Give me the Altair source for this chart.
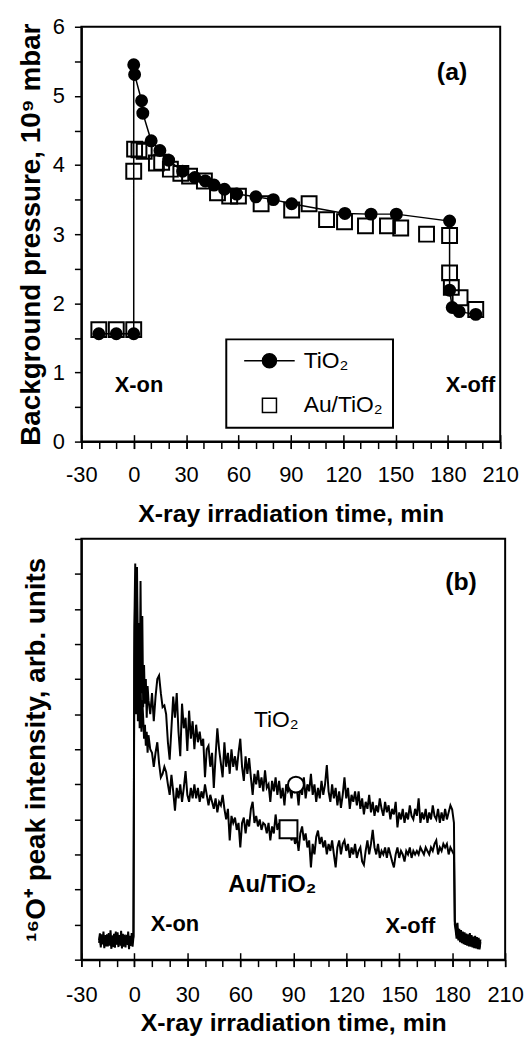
import altair as alt
import pandas as pd

# ---------------- Panel (a): background pressure ----------------
tio2_a_t = [-20, -10, 0, 0, 0.5, 4.5, 5.2, 10, 15, 20, 28, 35, 41, 46, 52, 59, 70, 80, 90.5,
            121, 136, 150.5, 181, 181, 182.5, 186.5, 196]
tio2_a_p = [1.56, 1.56, 1.56, 5.45, 5.31, 4.93, 4.75, 4.35, 4.21, 4.07, 3.91, 3.82, 3.77, 3.71,
            3.65, 3.58, 3.54, 3.50, 3.44, 3.30, 3.29, 3.29, 3.19, 2.19, 1.94, 1.88, 1.84]
au_a_t = [-20, -10, 0, 0, 0.5, 3, 6, 13, 16, 21, 27, 32, 40.5, 48, 55, 60, 73, 90.5, 100.5,
          110.5, 120.8, 132.8, 145.4, 153, 167.8, 181, 181, 182, 187, 196]
au_a_p = [1.62, 1.62, 1.62, 3.91, 4.23, 4.22, 4.20, 4.03, 4.04, 3.94, 3.88, 3.84, 3.77, 3.60,
          3.55, 3.55, 3.44, 3.35, 3.44, 3.21, 3.18, 3.12, 3.12, 3.09, 3.00, 2.98, 2.44, 2.23,
          2.08, 1.91]
legend_names = ["TiO₂", "Au/TiO₂"]

ann_a_text = ["X-on", "X-off"]
ann_a_t = [3, 193]
ann_a_p = [0.82, 0.82]
tag_a = ["(a)"]
tag_a_t = [182.4]
tag_a_p = [5.35]

# ---------------- Panel (b): 16O+ peak intensity ----------------
pre_t = [-20.0 + 0.5 * i for i in range(40)]
main_t = [0.5 * i for i in range(17)] + list(range(9, 181)) + [181, 181.5]
post_t = [182.0 + 0.5 * i for i in range(29)]
b_t = pre_t + main_t + post_t

tio2_pre = [0.55, 0.75, 0.42, 0.68, 0.50, 0.80, 0.45, 0.62, 0.38, 0.72, 0.52, 0.66, 0.40, 0.84,
            0.48, 0.60, 0.36, 0.74, 0.55, 0.64, 0.44, 0.78, 0.50, 0.70, 0.40, 0.82, 0.46, 0.63,
            0.37, 0.71, 0.53, 0.67, 0.42, 0.80, 0.49, 0.61, 0.39, 0.76, 0.52, 0.68]
tio2_main = [9.5, 11.3, 7.8, 11.2, 8.5, 9.6, 7.4, 10.8, 7.6, 9.8, 7.2, 8.4, 7.3, 8.0, 6.9, 7.8, 7.4,
             7.0, 7.6, 6.8, 7.5, 8.0, 8.1, 7.6, 7.2, 7.25, 7.0, 6.2, 5.7,
             6.6, 7.5, 6.9, 7.6, 6.5, 5.8, 7.3, 6.6, 6.9, 5.95,
             7.1, 6.3, 6.8, 6.0, 6.7, 6.2, 6.5, 6.1, 6.3, 5.2,
             6.0, 6.1, 5.5, 5.9, 4.9, 5.8, 6.6, 6.0, 5.6, 5.2,
             6.2, 5.5, 5.9, 5.3, 6.0, 5.5, 5.8, 5.4, 5.9, 6.3,
             5.5, 5.1, 5.8, 5.3, 5.75, 5.2, 4.7, 5.3, 5.0, 5.4,
             4.9, 5.2, 4.8, 5.4, 4.9, 5.0, 4.5, 5.1, 4.8, 5.2,
             4.7, 5.1, 4.6, 4.9, 4.4, 5.0, 4.8, 4.9, 4.6, 5.0,
             4.8, 4.9, 4.4, 5.0, 4.7, 5.2, 4.6, 5.0, 4.8, 5.3,
             4.7, 5.0, 4.5, 4.9, 4.6, 5.1, 4.7, 5.0, 5.55, 4.8,
             4.5, 5.0, 4.6, 4.9, 4.4, 4.8, 4.33, 4.7, 5.2, 4.6,
             4.9, 4.3, 4.7, 4.5, 4.8, 4.4, 4.8, 4.3, 4.6, 4.14,
             4.5, 4.3, 4.7, 4.2, 4.5, 4.1, 4.4, 4.2, 4.6, 4.3,
             4.1, 4.5, 4.2, 4.4, 4.0, 4.3, 4.14, 4.5, 3.77, 4.2,
             4.0, 4.3, 3.9, 4.2, 4.0, 4.4, 4.1, 4.0, 4.3, 4.1,
             4.6, 3.9, 4.2, 4.0, 4.3, 3.9, 4.2, 4.0, 4.4, 4.1,
             4.0, 4.3, 3.9, 4.2, 3.96, 4.3, 4.0, 4.2, 4.4, 4.28,
             3.9, 1.1]
tio2_post = [0.95, 0.70, 1.05, 0.62, 0.88, 0.58, 0.84, 0.55, 0.80, 0.52, 0.78, 0.50, 0.74, 0.48,
             0.72, 0.46, 0.76, 0.44, 0.70, 0.42, 0.66, 0.40, 0.68, 0.38, 0.64, 0.36, 0.62, 0.35,
             0.58]

au_pre = [0.48, 0.66, 0.35, 0.72, 0.44, 0.58, 0.33, 0.70, 0.47, 0.62, 0.38, 0.76, 0.42, 0.55,
          0.31, 0.69, 0.46, 0.60, 0.34, 0.80, 0.43, 0.57, 0.36, 0.67, 0.45, 0.59, 0.32, 0.74,
          0.41, 0.56, 0.35, 0.71, 0.44, 0.63, 0.30, 0.68, 0.47, 0.58, 0.37, 0.65]
au_main = [8.5, 10.6, 7.0, 10.4, 6.8, 9.0, 6.6, 8.2, 6.5, 7.4, 6.9, 6.3, 6.7, 6.1, 6.5, 5.9, 6.4,
           6.0, 5.9, 5.5, 5.9, 6.2, 5.6, 5.2, 5.3, 5.5, 5.35, 5.0, 4.7,
           5.27, 4.8, 4.25, 4.9, 4.6, 5.0, 4.5, 4.9, 5.38, 4.7,
           4.5, 4.9, 4.6, 5.0, 4.6, 4.9, 4.5, 4.8, 4.6, 5.0,
           4.7, 4.4, 4.7, 4.5, 4.3, 4.6, 4.2, 4.5, 4.4, 4.7,
           4.3, 4.0, 4.3, 3.4, 4.1, 3.9, 4.05, 3.7, 3.9, 3.2,
           3.9, 4.05, 3.6, 4.0, 3.8, 4.3, 4.5, 3.9, 4.1, 3.8,
           4.0, 3.7, 3.9, 3.85, 3.6, 3.9, 3.4, 3.8, 3.6, 4.14,
           3.7, 3.9, 3.5, 3.8, 3.6, 3.7, 3.5, 3.8, 3.4, 3.6,
           3.3, 3.5, 3.1, 3.6, 3.8, 3.4, 3.6, 3.2, 3.4, 2.63,
           3.3, 3.0, 3.5, 3.68, 3.3, 3.5, 3.2, 3.4, 3.0, 3.3,
           3.1, 3.4, 3.0, 2.63, 3.2, 3.4, 3.0, 3.3, 3.4, 3.1,
           3.3, 2.9, 3.2, 3.0, 3.3, 2.9, 3.1, 3.2, 2.8, 2.7,
           3.1, 3.4, 3.0, 3.3, 3.7, 3.2, 3.0, 3.3, 2.9, 3.1,
           3.0, 3.2, 2.9, 3.2, 3.0, 2.8, 2.63, 3.0, 3.2, 2.9,
           3.1, 3.0, 2.8, 3.1, 3.0, 3.2, 2.9, 3.1, 3.0, 3.1,
           3.0, 3.2, 3.1, 3.0, 3.2, 3.1, 3.0, 3.2, 3.1, 3.3,
           3.4, 3.0, 3.2, 3.1, 3.3, 3.2, 3.3, 3.0, 3.2, 3.1,
           3.0, 1.0]
au_post = [0.82, 0.60, 0.90, 0.55, 0.76, 0.50, 0.72, 0.47, 0.70, 0.44, 0.67, 0.42, 0.64, 0.40,
           0.62, 0.38, 0.66, 0.37, 0.60, 0.35, 0.58, 0.33, 0.60, 0.32, 0.56, 0.30, 0.55, 0.29,
           0.50]

marker_shape = ["circle", "square"]
marker_t = [91.5, 87.3]
marker_v = [4.99, 3.72]

ann_b_text = ["X-on", "X-off"]
ann_b_t = [23, 156.3]
ann_b_v = [1.02, 0.96]
tag_b_t = [185]
tag_b_v = [10.78]
lab_tio2_t = [80.4]
lab_tio2_v = [6.82]
lab_au_t = [78.1]
lab_au_v = [2.12]

# ---------------- common settings ----------------
FONT = "Liberation Sans"
xscale = alt.Scale(domain=[-30, 210], nice=False, zero=False)


def minor_x():
    return alt.Axis(orient="bottom", values=list(range(-30, 211, 10)), tickSize=7,
                    tickWidth=1.5, labels=False, title=None, domain=True, domainWidth=2,
                    grid=False)


def major_x(title_y, pad):
    return alt.Axis(orient="bottom", values=list(range(-30, 211, 30)), tickSize=14,
                    tickWidth=1.5, offset=-7, domain=False, grid=False, labelPadding=pad,
                    labelFlush=False, labelOverlap=False, labelExpr="'' + datum.value",
                    labelFontSize=22, labelFont=FONT,
                    title="X-ray irradiation time, min", titleFontSize=25,
                    titleFont=FONT, titleFontWeight="bold", titleBaseline="alphabetic",
                    titleY=title_y)


W_A, H_A = 422, 418
W_B, H_B = 427, 424

ya_scale = alt.Scale(domain=[0, 6], nice=False, zero=False)
ya_axis = alt.Axis(values=[i * 0.5 for i in range(13)], tickSize=7, tickWidth=1.5,
                   domainWidth=2, grid=False, labelPadding=10, labelOverlap=False,
                   labelExpr="datum.value % 1 == 0 ? '' + datum.value : ''",
                   labelFontSize=22, labelFont=FONT,
                   title="Background pressure, 10⁹ mbar", titleFontSize=28, titleFont=FONT,
                   titleFontWeight="bold", titleAngle=270, titleAlign="center",
                   titleBaseline="alphabetic", titleX=-42, titleY=H_A / 2)

df_tio2_a = pd.DataFrame({"t": tio2_a_t, "p": tio2_a_p, "i": list(range(len(tio2_a_t)))})
df_au_a = pd.DataFrame({"t": au_a_t, "p": au_a_p})

sq = alt.Chart(df_au_a).mark_point(shape="square", filled=False, stroke="black",
                                   strokeWidth=2, size=225, opacity=1).encode(
    x=alt.X("t:Q", scale=xscale, axis=minor_x()),
    y=alt.Y("p:Q", scale=ya_scale, axis=ya_axis))
ln = alt.Chart(df_tio2_a).mark_line(color="black", strokeWidth=1.5).encode(
    x=alt.X("t:Q", scale=xscale, axis=major_x(88, 16)),
    y=alt.Y("p:Q", scale=ya_scale, axis=ya_axis),
    order="i:Q")
ci = alt.Chart(df_tio2_a).mark_point(shape="circle", filled=True, color="black", size=170,
                                     opacity=1).encode(
    x=alt.X("t:Q", scale=xscale, axis=None),
    y=alt.Y("p:Q", scale=ya_scale, axis=ya_axis))

line_circle = "M-3.6,0H3.6M-1,0A1,1,0,1,1,1,0A1,1,0,1,1,-1,0Z"
leg_df = pd.DataFrame({"series": legend_names, "t": [None, None], "p": [None, None]})
leg_legend = alt.Legend(orient="none", legendX=146, legendY=315, title=None,
                        strokeColor="black", padding=10, rowPadding=21, symbolSize=200,
                        symbolOffset=22, labelOffset=23, labelFontSize=23, labelFont=FONT,
                        symbolStrokeWidth=1.5, symbolOpacity=1, labelColor="black")
leg = alt.Chart(leg_df).mark_point(filled=True, strokeWidth=1.5, opacity=1).encode(
    x=alt.X("t:Q", scale=xscale, axis=None),
    y=alt.Y("p:Q", scale=ya_scale, axis=ya_axis),
    shape=alt.Shape("series:N", scale=alt.Scale(domain=legend_names,
                                                range=[line_circle, "square"]),
                    legend=leg_legend),
    fill=alt.Fill("series:N", scale=alt.Scale(domain=legend_names, range=["black", "white"]),
                  legend=leg_legend),
    stroke=alt.Stroke("series:N", scale=alt.Scale(domain=legend_names,
                                                  range=["black", "black"]),
                      legend=leg_legend))

ann_a = alt.Chart(pd.DataFrame({"t": ann_a_t, "p": ann_a_p, "s": ann_a_text})).mark_text(
    font=FONT, fontSize=22, fontWeight="bold", color="black").encode(
    x=alt.X("t:Q", scale=xscale, axis=None), y=alt.Y("p:Q", scale=ya_scale, axis=ya_axis),
    text="s:N")
tag_a_ch = alt.Chart(pd.DataFrame({"t": tag_a_t, "p": tag_a_p, "s": tag_a})).mark_text(
    font=FONT, fontSize=25, fontWeight="bold", color="black").encode(
    x=alt.X("t:Q", scale=xscale, axis=None), y=alt.Y("p:Q", scale=ya_scale, axis=ya_axis),
    text="s:N")

panel_a = alt.layer(sq, ln, ci, leg, ann_a, tag_a_ch).resolve_axis(x="independent").properties(
    width=W_A, height=H_A)

# ---------------- panel b ----------------
yb_scale = alt.Scale(domain=[0, 12], nice=False, zero=False)
yb_axis = alt.Axis(values=list(range(13)), tickSize=7, tickWidth=1.5, domainWidth=2,
                   grid=False, labels=False,
                   title="¹⁶O⁺ peak intensity, arb. units", titleFontSize=28, titleFont=FONT,
                   titleFontWeight="bold", titleAngle=270, titleAlign="center",
                   titleBaseline="alphabetic", titleX=-37, titleY=H_B / 2)

df_b = pd.concat([
    pd.DataFrame({"t": b_t, "v": tio2_pre + tio2_main + tio2_post, "series": "TiO2"}),
    pd.DataFrame({"t": b_t, "v": au_pre + au_main + au_post, "series": "Au/TiO2"}),
])

traces = alt.Chart(df_b).mark_line(color="black", strokeWidth=2).encode(
    x=alt.X("t:Q", scale=xscale, axis=minor_x()),
    y=alt.Y("v:Q", scale=yb_scale, axis=yb_axis),
    detail="series:N")
traces2 = alt.Chart(df_b).mark_line(opacity=0).encode(
    x=alt.X("t:Q", scale=xscale, axis=major_x(78, 18)),
    y=alt.Y("v:Q", scale=yb_scale, axis=yb_axis),
    detail="series:N")

mk = pd.DataFrame({"t": marker_t, "v": marker_v, "shape": marker_shape})
mk_c = alt.Chart(mk[mk["shape"] == "circle"]).mark_point(
    shape="circle", filled=True, fill="white", stroke="black", strokeWidth=2, size=256,
    opacity=1).encode(x=alt.X("t:Q", scale=xscale, axis=None),
                      y=alt.Y("v:Q", scale=yb_scale, axis=yb_axis))
mk_s = alt.Chart(mk[mk["shape"] == "square"]).mark_point(
    shape="square", filled=True, fill="white", stroke="black", strokeWidth=2, size=324,
    opacity=1).encode(x=alt.X("t:Q", scale=xscale, axis=None),
                      y=alt.Y("v:Q", scale=yb_scale, axis=yb_axis))

ann_b = alt.Chart(pd.DataFrame({"t": ann_b_t, "v": ann_b_v, "s": ann_b_text})).mark_text(
    font=FONT, fontSize=22, fontWeight="bold", color="black").encode(
    x=alt.X("t:Q", scale=xscale, axis=None), y=alt.Y("v:Q", scale=yb_scale, axis=yb_axis),
    text="s:N")
tag_b_ch = alt.Chart(pd.DataFrame({"t": tag_b_t, "v": tag_b_v, "s": ["(b)"]})).mark_text(
    font=FONT, fontSize=25, fontWeight="bold", color="black").encode(
    x=alt.X("t:Q", scale=xscale, axis=None), y=alt.Y("v:Q", scale=yb_scale, axis=yb_axis),
    text="s:N")
lab_t = alt.Chart(pd.DataFrame({"t": lab_tio2_t, "v": lab_tio2_v, "s": ["TiO₂"]})).mark_text(
    font=FONT, fontSize=23, color="black").encode(
    x=alt.X("t:Q", scale=xscale, axis=None), y=alt.Y("v:Q", scale=yb_scale, axis=yb_axis),
    text="s:N")
lab_a = alt.Chart(pd.DataFrame({"t": lab_au_t, "v": lab_au_v, "s": ["Au/TiO₂"]})).mark_text(
    font=FONT, fontSize=24, fontWeight="bold", color="black").encode(
    x=alt.X("t:Q", scale=xscale, axis=None), y=alt.Y("v:Q", scale=yb_scale, axis=yb_axis),
    text="s:N")

panel_b = alt.layer(traces, traces2, mk_c, mk_s, ann_b, tag_b_ch, lab_t, lab_a).resolve_axis(
    x="independent").properties(width=W_B, height=H_B)

chart = alt.vconcat(panel_a, panel_b, spacing=98, bounds="flush").properties(
    padding={"left": 16, "top": 11, "right": 0, "bottom": 0},
    background="white",
).configure_view(stroke="black", strokeWidth=2).configure_axis(
    domainColor="black", tickColor="black", labelColor="black", titleColor="black"
).configure_legend(strokeWidth=2)

chart.save("out.html", embed_options={"renderer": "svg", "actions": False})
